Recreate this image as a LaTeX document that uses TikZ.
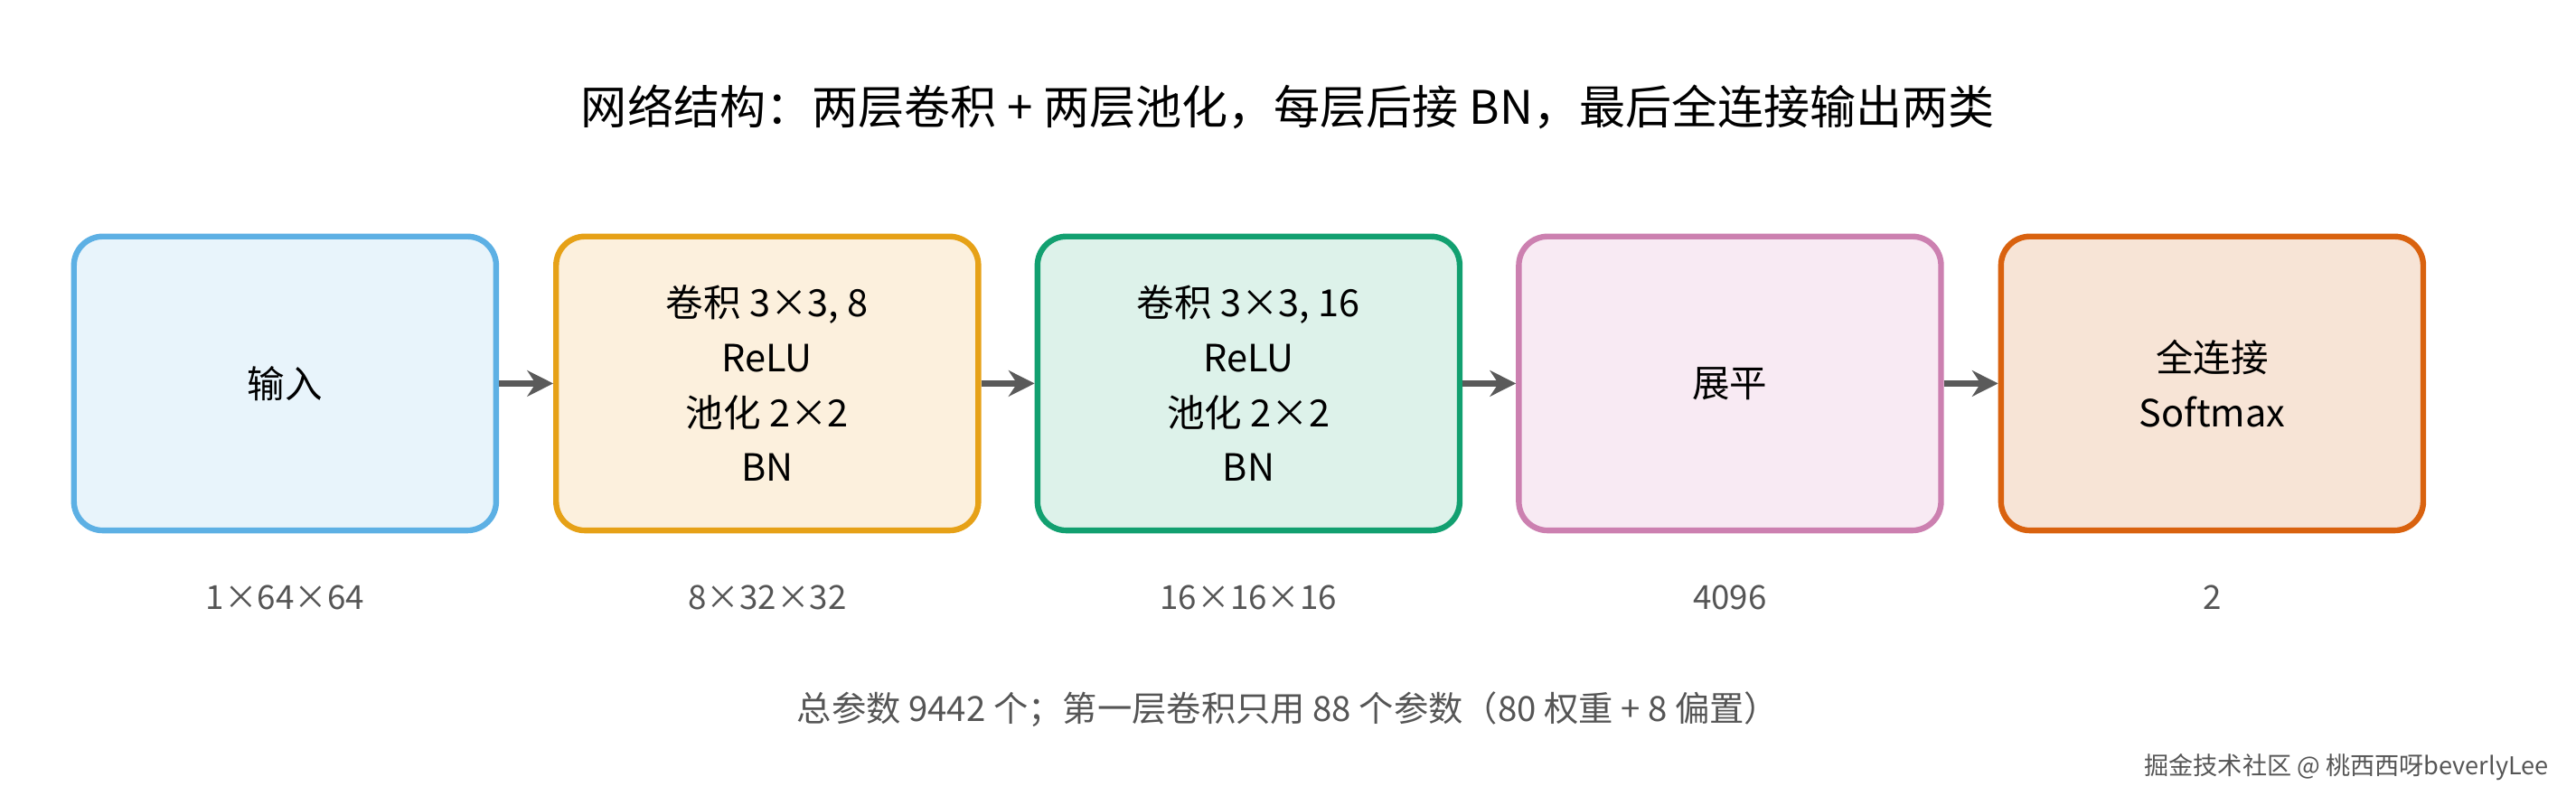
\documentclass[tikz,border=0pt]{standalone}
\usepackage{fontspec}
\setmainfont{Noto Sans CJK SC}
\usetikzlibrary{arrows.meta,positioning}
\definecolor{bluestroke}{HTML}{5DB0E4}\definecolor{bluefill}{HTML}{E8F4FB}
\definecolor{yellowstroke}{HTML}{E6A117}\definecolor{yellowfill}{HTML}{FCF0DD}
\definecolor{greenstroke}{HTML}{12A070}\definecolor{greenfill}{HTML}{DDF2EA}
\definecolor{pinkstroke}{HTML}{CC80B0}\definecolor{pinkfill}{HTML}{F8EAF3}
\definecolor{orangestroke}{HTML}{D9620F}\definecolor{orangefill}{HTML}{F7E4D6}
\definecolor{arrowgray}{HTML}{5A5A5A}
\definecolor{textgray}{HTML}{555555}
\begin{document}
\begin{tikzpicture}[
    stage/.style={draw, line width=2pt, rounded corners=10pt, minimum width=5.14cm,
      minimum height=3.58cm, align=center, font=\fontsize{13}{19}\selectfont},
    dim/.style={text=textgray, font=\fontsize{11.5}{14}\selectfont},
    flow/.style={-{Stealth[length=9pt,width=9pt]}, line width=2.2pt, arrowgray}]
  \useasboundingbox (0,0) rectangle (31.36,9.8);
  \node (title) at (15.68,8.5) {\fontsize{16}{20}\selectfont 网络结构：两层卷积 + 两层池化，每层后接 BN，最后全连接输出两类};
  \node[stage, draw=bluestroke, fill=bluefill] (input) at (3.47,5.13) {输入};
  \node[stage, draw=yellowstroke, fill=yellowfill] (conv1) at (9.34,5.13) {卷积 3×3, 8\\ReLU\\池化 2×2\\BN};
  \node[stage, draw=greenstroke, fill=greenfill] (conv2) at (15.2,5.13) {卷积 3×3, 16\\ReLU\\池化 2×2\\BN};
  \node[stage, draw=pinkstroke, fill=pinkfill] (flat) at (21.06,5.13) {展平};
  \node[stage, draw=orangestroke, fill=orangefill] (fc) at (26.93,5.13) {全连接\\Softmax};
  \draw[flow] (input) -- (conv1);
  \draw[flow] (conv1) -- (conv2);
  \draw[flow] (conv2) -- (flat);
  \draw[flow] (flat) -- (fc);
  \node[dim] (d1) at (3.47,2.52) {1×64×64};
  \node[dim] (d2) at (9.34,2.52) {8×32×32};
  \node[dim] (d3) at (15.2,2.52) {16×16×16};
  \node[dim] (d4) at (21.06,2.52) {4096};
  \node[dim] (d5) at (26.93,2.52) {2};
  \node[dim, font=\fontsize{12}{15}\selectfont] (note) at (15.68,1.16) {总参数 9442 个；第一层卷积只用 88 个参数（80 权重 + 8 偏置）};
  \node[anchor=east, text=textgray, font=\fontsize{8.5}{10}\selectfont] (mark) at (31.15,0.46) {掘金技术社区 @ 桃西西呀beverlyLee};
\end{tikzpicture}
\end{document}
